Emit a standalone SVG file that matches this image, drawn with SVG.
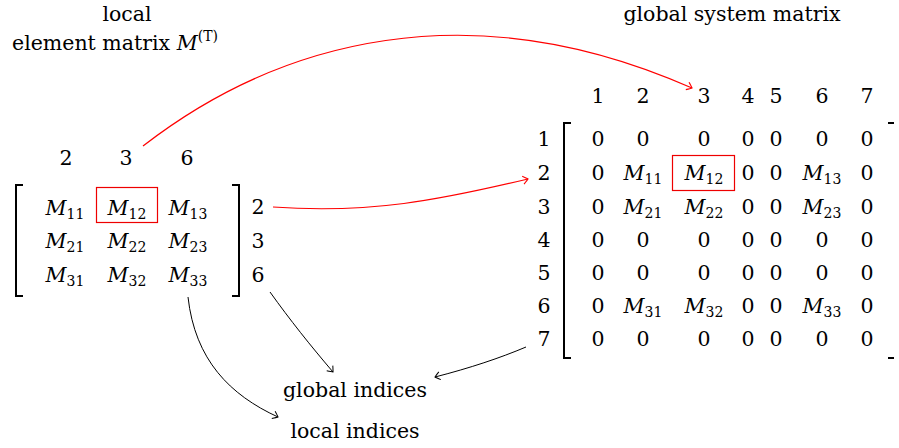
<svg xmlns="http://www.w3.org/2000/svg" width="899" height="448" viewBox="0 0 899 448" font-family="'DejaVu Serif', 'Liberation Serif', serif">
<defs>
<style>
text{font-family:"DejaVu Serif","Liberation Serif",serif;font-size:20.5px;fill:#000}
.c{text-anchor:middle}
.m{font-style:italic}
.s{font-size:14px;font-style:normal}
.br{fill:none;stroke:#000;stroke-width:2}
.box{fill:none;stroke:#e00;stroke-width:1.2}
.red{fill:none;stroke:#f00;stroke-width:1.2}
.blk{fill:none;stroke:#000;stroke-width:1}
</style>
<marker id="ar" viewBox="-6 -5 8 10" markerWidth="8" markerHeight="10" refX="0" refY="0" orient="auto" markerUnits="userSpaceOnUse">
<path d="M-5,-4 Q-1,-1 0,0 Q-1,1 -5,4" fill="none" stroke="#f00" stroke-width="1.2"/>
</marker>
<marker id="ab" viewBox="-6 -5 8 10" markerWidth="8" markerHeight="10" refX="0" refY="0" orient="auto" markerUnits="userSpaceOnUse">
<path d="M-5,-4 Q-1,-1 0,0 Q-1,1 -5,4" fill="none" stroke="#000" stroke-width="1"/>
</marker>
</defs>

<g id="local-title">
<text class="c" x="127" y="21">local</text>
<text x="12" y="50">element matrix <tspan class="m">M</tspan><tspan class="s" dy="-9">(</tspan><tspan class="s m">T</tspan><tspan class="s">)</tspan></text>
</g>

<g id="global-title">
<text class="c" x="732" y="21">global system matrix</text>
</g>

<g id="local-matrix">
<text class="c" x="66" y="165">2</text>
<text class="c" x="126" y="165">3</text>
<text class="c" x="187" y="165">6</text>
<path class="br" d="M23,185 H16 V296 H23"/>
<path class="br" d="M232,185 H239 V296 H232"/>
<rect class="box" x="96.5" y="187.5" width="61" height="35"/>
<text class="c m" x="65" y="215">M<tspan class="s" dy="4">11</tspan></text>
<text class="c m" x="127" y="215">M<tspan class="s" dy="4">12</tspan></text>
<text class="c m" x="188" y="215">M<tspan class="s" dy="4">13</tspan></text>
<text class="c m" x="65" y="248">M<tspan class="s" dy="4">21</tspan></text>
<text class="c m" x="127" y="248">M<tspan class="s" dy="4">22</tspan></text>
<text class="c m" x="188" y="248">M<tspan class="s" dy="4">23</tspan></text>
<text class="c m" x="65" y="282">M<tspan class="s" dy="4">31</tspan></text>
<text class="c m" x="127" y="282">M<tspan class="s" dy="4">32</tspan></text>
<text class="c m" x="188" y="282">M<tspan class="s" dy="4">33</tspan></text>
<text class="c" x="258" y="214">2</text>
<text class="c" x="258" y="248">3</text>
<text class="c" x="258" y="282">6</text>
</g>

<g id="global-matrix">
<text class="c" x="598" y="103">1</text>
<text class="c" x="643" y="103">2</text>
<text class="c" x="704" y="103">3</text>
<text class="c" x="748" y="103">4</text>
<text class="c" x="776" y="103">5</text>
<text class="c" x="822" y="103">6</text>
<text class="c" x="867" y="103">7</text>
<path class="br" d="M571,123 H564 V358 H571"/>
<path class="br" d="M888,123 H894"/>
<path class="br" d="M888,358 H894"/>
<rect class="box" x="672.5" y="155.5" width="62" height="35"/>
<text class="c" x="544" y="146">1</text>
<text class="c" x="544" y="180">2</text>
<text class="c" x="544" y="214">3</text>
<text class="c" x="544" y="247">4</text>
<text class="c" x="544" y="280">5</text>
<text class="c" x="544" y="313">6</text>
<text class="c" x="544" y="346">7</text>
<text class="c" x="598" y="146">0</text><text class="c" x="643" y="146">0</text><text class="c" x="704" y="146">0</text><text class="c" x="748" y="146">0</text><text class="c" x="776" y="146">0</text><text class="c" x="822" y="146">0</text><text class="c" x="867" y="146">0</text>
<text class="c" x="598" y="180">0</text><text class="c m" x="643" y="180">M<tspan class="s" dy="4">11</tspan></text><text class="c m" x="704" y="180">M<tspan class="s" dy="4">12</tspan></text><text class="c" x="748" y="180">0</text><text class="c" x="776" y="180">0</text><text class="c m" x="822" y="180">M<tspan class="s" dy="4">13</tspan></text><text class="c" x="867" y="180">0</text>
<text class="c" x="598" y="214">0</text><text class="c m" x="643" y="214">M<tspan class="s" dy="4">21</tspan></text><text class="c m" x="704" y="214">M<tspan class="s" dy="4">22</tspan></text><text class="c" x="748" y="214">0</text><text class="c" x="776" y="214">0</text><text class="c m" x="822" y="214">M<tspan class="s" dy="4">23</tspan></text><text class="c" x="867" y="214">0</text>
<text class="c" x="598" y="247">0</text><text class="c" x="643" y="247">0</text><text class="c" x="704" y="247">0</text><text class="c" x="748" y="247">0</text><text class="c" x="776" y="247">0</text><text class="c" x="822" y="247">0</text><text class="c" x="867" y="247">0</text>
<text class="c" x="598" y="280">0</text><text class="c" x="643" y="280">0</text><text class="c" x="704" y="280">0</text><text class="c" x="748" y="280">0</text><text class="c" x="776" y="280">0</text><text class="c" x="822" y="280">0</text><text class="c" x="867" y="280">0</text>
<text class="c" x="598" y="313">0</text><text class="c m" x="643" y="313">M<tspan class="s" dy="4">31</tspan></text><text class="c m" x="704" y="313">M<tspan class="s" dy="4">32</tspan></text><text class="c" x="748" y="313">0</text><text class="c" x="776" y="313">0</text><text class="c m" x="822" y="313">M<tspan class="s" dy="4">33</tspan></text><text class="c" x="867" y="313">0</text>
<text class="c" x="598" y="346">0</text><text class="c" x="643" y="346">0</text><text class="c" x="704" y="346">0</text><text class="c" x="748" y="346">0</text><text class="c" x="776" y="346">0</text><text class="c" x="822" y="346">0</text><text class="c" x="867" y="346">0</text>
</g>

<g id="global-indices">
<text class="c" x="355" y="397">global indices</text>
</g>
<g id="local-indices">
<text class="c" x="355" y="438">local indices</text>
</g>

<g id="connectors">
<path class="red" d="M143,146 C280,40 470,-10 692,88" marker-end="url(#ar)"/>
<path class="red" d="M273,207 C370,214 440,200 528,179" marker-end="url(#ar)"/>
<path class="blk" d="M270,292 C290,320 310,345 333,372" marker-end="url(#ab)"/>
<path class="blk" d="M526,347 C500,358 470,368 435,377" marker-end="url(#ab)"/>
<path class="blk" d="M188,297 C195,360 230,395 278,417" marker-end="url(#ab)"/>
</g>
</svg>
